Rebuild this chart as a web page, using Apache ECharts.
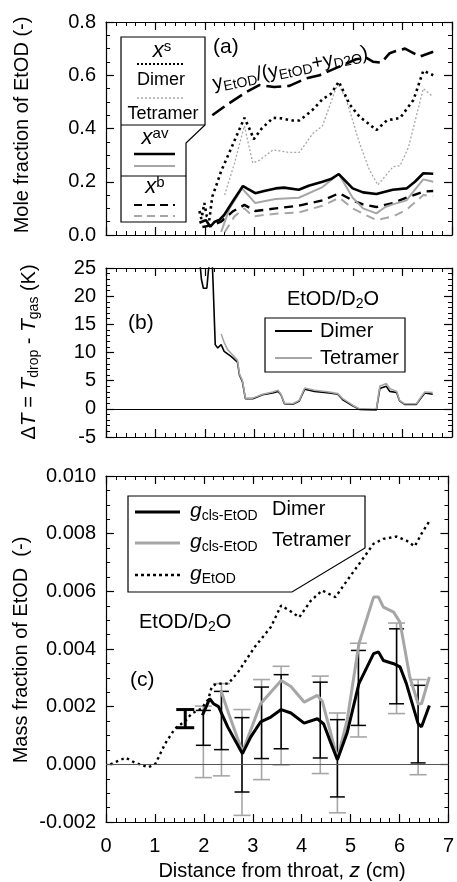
<!DOCTYPE html>
<html>
<head>
<meta charset="utf-8">
<script src="https://cdn.jsdelivr.net/npm/echarts@6/dist/echarts.min.js"></script>
<style>
  html, body { margin: 0; padding: 0; background: #fff; }
  #chart { width: 457px; height: 882px; }
</style>
</head>
<body>
<div id="chart"></div>
<script>
// ---- panel (a): mole fraction of EtOD ----
var ratioZ = [2.15, 2.45, 2.84, 3.1, 3.4, 3.71, 4.05, 4.32, 4.79, 5.06, 5.27, 5.4, 5.57, 5.74, 5.85, 6.05, 6.2, 6.35, 6.62];
var ratioY = [0.45, 0.49, 0.537, 0.563, 0.556, 0.56, 0.588, 0.60, 0.638, 0.66, 0.665, 0.651, 0.647, 0.683, 0.69, 0.70, 0.685, 0.67, 0.688];

var xsDimerZ = [1.89, 1.93, 1.99, 2.04, 2.09, 2.15, 2.22, 2.33, 2.5, 2.65, 2.8, 2.9, 2.99, 3.15, 3.38, 3.55, 3.77, 3.91, 4.05, 4.18, 4.38, 4.55, 4.71, 4.93, 5.13, 5.3, 5.47, 5.68, 5.95, 6.22, 6.42, 6.62];
var xsDimerY = [0.09, 0.06, 0.12, 0.07, 0.056, 0.144, 0.18, 0.24, 0.312, 0.376, 0.44, 0.4, 0.36, 0.4, 0.44, 0.438, 0.43, 0.43, 0.45, 0.47, 0.51, 0.53, 0.576, 0.49, 0.444, 0.42, 0.394, 0.43, 0.44, 0.507, 0.617, 0.60];

var xsTetraZ = [2.4, 2.6, 2.8, 2.97, 3.1, 3.38, 3.71, 3.91, 4.18, 4.38, 4.69, 4.86, 5.13, 5.33, 5.5, 5.81, 5.95, 6.12, 6.42, 6.61];
var xsTetraY = [0.15, 0.27, 0.41, 0.27, 0.28, 0.32, 0.31, 0.31, 0.38, 0.41, 0.57, 0.51, 0.344, 0.244, 0.188, 0.257, 0.26, 0.33, 0.55, 0.52];

var xavDimerZ = [1.89, 2.02, 2.11, 2.2, 2.29, 2.39, 2.56, 2.77, 2.85, 3.02, 3.2, 3.43, 3.6, 3.9, 4.1, 4.38, 4.55, 4.71, 4.99, 5.2, 5.47, 5.8, 6.08, 6.25, 6.42, 6.62];
var xavDimerY = [0.046, 0.056, 0.031, 0.05, 0.056, 0.075, 0.125, 0.184, 0.175, 0.157, 0.165, 0.175, 0.178, 0.17, 0.185, 0.2, 0.21, 0.229, 0.175, 0.16, 0.154, 0.17, 0.175, 0.2, 0.232, 0.23];

var xavTetraZ = [2.33, 2.5, 2.75, 2.85, 3.02, 3.43, 3.9, 4.38, 4.71, 4.99, 5.2, 5.47, 5.65, 5.8, 6.08, 6.25, 6.42, 6.62];
var xavTetraY = [0.012, 0.1, 0.175, 0.155, 0.12, 0.135, 0.14, 0.18, 0.229, 0.14, 0.1, 0.081, 0.105, 0.115, 0.13, 0.17, 0.209, 0.2];

var xbDimerZ = [1.95, 2.15, 2.33, 2.56, 2.8, 3.02, 3.43, 3.9, 4.38, 4.72, 4.99, 5.2, 5.47, 5.8, 6.08, 6.42, 6.62];
var xbDimerY = [0.03, 0.037, 0.05, 0.088, 0.113, 0.09, 0.1, 0.11, 0.13, 0.157, 0.13, 0.115, 0.105, 0.12, 0.14, 0.163, 0.165];

var xbTetraZ = [2.4, 2.6, 2.8, 2.97, 3.43, 3.9, 4.38, 4.72, 4.99, 5.2, 5.47, 5.81, 6.08, 6.42, 6.62];
var xbTetraY = [0.01, 0.07, 0.1, 0.07, 0.08, 0.085, 0.11, 0.14, 0.1, 0.08, 0.056, 0.07, 0.095, 0.15, 0.145];

// ---- panel (b): dT = Tdrop - Tgas ----
var dtDimerZ = [1.89, 1.93, 1.97, 2.04, 2.07, 2.11, 2.15, 2.17, 2.21, 2.26, 2.33, 2.39, 2.53, 2.66, 2.70, 2.76, 2.82, 2.97, 3.17, 3.37, 3.48, 3.54, 3.61, 3.78, 3.91, 4.02, 4.22, 4.52, 4.69, 4.79, 5.00, 5.13, 5.47, 5.54, 5.67, 5.74, 5.88, 5.94, 6.04, 6.28, 6.38, 6.45, 6.61];
var dtDimerY = [27, 23, 21.4, 21.4, 24.4, 27, 26, 21.4, 11.4, 10.8, 11.4, 10.2, 9.3, 8.3, 6.0, 4.8, 1.8, 1.8, 2.5, 2.8, 3.1, 2.5, 0.9, 0.8, 1.4, 3.5, 3.1, 2.8, 2.6, 1.6, 0.5, -0.1, -0.2, 3.6, 4.0, 3.1, 2.9, 1.4, 0.8, 0.8, 2.0, 2.8, 2.6];

var dtTetraZ = [2.33, 2.39, 2.46, 2.56, 2.66, 2.70, 2.76, 2.82, 2.97, 3.17, 3.37, 3.48, 3.54, 3.61, 3.78, 3.91, 4.02, 4.22, 4.52, 4.69, 4.79, 5.00, 5.13, 5.47, 5.54, 5.67, 5.74, 5.88, 5.94, 6.04, 6.28, 6.38, 6.45, 6.61];
var dtTetraY = [13.3, 11.8, 10.5, 9.6, 8.6, 6.2, 5.0, 1.9, 1.9, 2.6, 3.0, 3.3, 2.6, 1.0, 0.9, 1.5, 3.7, 3.3, 3.0, 2.7, 1.8, 0.6, 0.0, -0.1, 4.0, 4.5, 3.6, 3.1, 1.5, 0.9, 0.9, 2.2, 3.0, 2.9];

// ---- panel (c): mass fraction of EtOD ----
var gEtodZ = [0.09, 0.4, 0.6, 0.87, 1.01, 1.21, 1.41, 1.62, 1.75, 1.95, 2.09, 2.16, 2.26, 2.5, 2.7, 3.04, 3.37, 3.58, 3.78, 3.95, 4.19, 4.42, 4.69, 4.93, 5.2, 5.47, 5.67, 5.94, 6.14, 6.31, 6.45, 6.62];
var gEtodY = [0.0, 0.00023, 0.00005, -0.0001, 0.00002, 0.00072, 0.00124, 0.0015, 0.00176, 0.00193, 0.00225, 0.00268, 0.0028, 0.0028, 0.0032, 0.00407, 0.00476, 0.00551, 0.0053, 0.0051, 0.00568, 0.00603, 0.0058, 0.00638, 0.00701, 0.00765, 0.00782, 0.0079, 0.00776, 0.00756, 0.0080, 0.00846];

var gDimerZ = [1.97, 2.12, 2.2, 2.3, 2.49, 2.79, 2.96, 3.16, 3.37, 3.58, 3.78, 4.05, 4.32, 4.45, 4.59, 4.73, 4.93, 5.17, 5.47, 5.57, 5.67, 5.88, 6.01, 6.14, 6.38, 6.45, 6.61];
var gDimerY = [0.0017, 0.00228, 0.0021, 0.002, 0.00129, 0.00037, 0.00095, 0.00147, 0.00164, 0.0019, 0.00178, 0.00143, 0.00158, 0.0014, 0.00077, 0.00016, 0.0011, 0.0028, 0.00384, 0.0039, 0.0036, 0.00349, 0.00338, 0.0028, 0.00141, 0.0013, 0.00204];

var gTetraZ = [2.35, 2.5, 2.79, 3.16, 3.58, 3.78, 4.05, 4.32, 4.42, 4.73, 4.93, 5.17, 5.47, 5.57, 5.67, 5.88, 6.01, 6.21, 6.38, 6.45, 6.61];
var gTetraY = [0.00256, 0.0018, 0.00043, 0.0021, 0.00291, 0.0027, 0.00216, 0.00239, 0.0022, 0.0002, 0.00153, 0.00418, 0.0058, 0.0058, 0.00545, 0.00528, 0.00493, 0.00303, 0.0021, 0.0021, 0.00303];

// error bars
var errZ = [1.99, 2.36, 2.78, 3.18, 3.58, 4.38, 4.73, 5.16, 5.94, 6.38];
var errDimerLo = [0.00066, 0.00051, -0.00096, 0.0002, 0.00054, 0.00022, -0.00113, 0.00135, 0.0021, 0.00005];
var errDimerHi = [0.00187, 0.00253, 0.00162, 0.00268, 0.00311, 0.00285, 0.00155, 0.00395, 0.0047, 0.00274];
var errTetraLo = [-0.00046, -0.0004, -0.00177, -0.00053, -0.00002, -0.00032, -0.00168, 0.00095, 0.00176, -0.00036];
var errTetraHi = [0.00202, 0.0028, 0.0019, 0.00294, 0.0034, 0.00306, 0.00178, 0.0042, 0.0049, 0.00294];
var measZ = [1.62];
var measLo = [0.00127];
var measHi = [0.0019];

var FONT = '"Liberation Sans", Arial, Helvetica, sans-serif';
var GRAY = '#a6a6a6';

function pairs(xs, ys) {
  return xs.map(function (x, i) { return [x, ys[i]]; });
}

function xAxes(g, labels) {
  var base = {
    type: 'value', gridIndex: g, min: 0, max: 7, interval: 1,
    axisLine: { show: true, onZero: false, lineStyle: { color: '#000', width: 1.2 } },
    axisTick: { show: true, inside: true, length: 8, lineStyle: { color: '#000', width: 1.2 } },
    minorTick: { show: true, splitNumber: 5, length: 4, lineStyle: { color: '#000', width: 1 } },
    splitLine: { show: false }
  };
  return [
    Object.assign({}, base, { position: 'bottom',
      axisLabel: { show: labels, color: '#000', fontSize: 20, fontFamily: FONT, margin: 14 } }),
    Object.assign({}, base, { position: 'top', axisLabel: { show: false } })
  ];
}

function yAxes(g, min, max, interval, minor, fmt) {
  var base = {
    type: 'value', gridIndex: g, min: min, max: max, interval: interval,
    axisLine: { show: true, onZero: false, lineStyle: { color: '#000', width: 1.2 } },
    axisTick: { show: true, inside: true, length: 8, lineStyle: { color: '#000', width: 1.2 } },
    minorTick: { show: true, splitNumber: minor, length: 4, lineStyle: { color: '#000', width: 1 } },
    splitLine: { show: false }
  };
  return [
    Object.assign({}, base, { position: 'left',
      axisLabel: { color: '#000', fontSize: 20, fontFamily: FONT, margin: 10, formatter: fmt } }),
    Object.assign({}, base, { position: 'right', axisLabel: { show: false } })
  ];
}

function line(g, xs, ys, style, extra) {
  return Object.assign({
    type: 'line', xAxisIndex: g * 2, yAxisIndex: g * 2,
    data: pairs(xs, ys), symbol: 'none', silent: true, clip: true,
    lineStyle: style
  }, extra || {});
}

function errBars(g, xs, lo, hi, color, width, cap, z) {
  return {
    type: 'custom', xAxisIndex: g * 2, yAxisIndex: g * 2, silent: true, z: z,
    data: xs.map(function (x, i) { return [x, lo[i], hi[i]]; }),
    encode: { x: 0, y: [1, 2] },
    renderItem: function (params, api) {
      var top = api.coord([api.value(0), api.value(2)]);
      var bot = api.coord([api.value(0), api.value(1)]);
      var st = { stroke: color, lineWidth: width };
      return { type: 'group', children: [
        { type: 'line', shape: { x1: top[0], y1: top[1], x2: bot[0], y2: bot[1] }, style: st },
        { type: 'line', shape: { x1: top[0] - cap, y1: top[1], x2: top[0] + cap, y2: top[1] }, style: st },
        { type: 'line', shape: { x1: bot[0] - cap, y1: bot[1], x2: bot[0] + cap, y2: bot[1] }, style: st }
      ] };
    }
  };
}

var zeroLine = function (color, width) {
  return { silent: true, symbol: 'none', label: { show: false },
    lineStyle: { color: color, width: width, type: 'solid' }, data: [{ yAxis: 0 }] };
};

// rich text styles
var RICH = {
  m: { fontSize: 20, fontFamily: FONT, lineHeight: 24, fill: '#000', color: '#000' },
  i: { fontSize: 20, fontFamily: FONT, fontStyle: 'italic', lineHeight: 24, color: '#000' },
  s: { fontSize: 13, fontFamily: FONT, verticalAlign: 'bottom', lineHeight: 13, color: '#000' },
  u: { fontSize: 14, fontFamily: FONT, verticalAlign: 'top', lineHeight: 11, color: '#000' }
};

function txt(x, y, text, opt) {
  opt = opt || {};
  return {
    type: 'text', x: x, y: y, rotation: opt.rot || 0, silent: true, z: 100,
    style: {
      text: text, rich: opt.rich || RICH, fill: '#000',
      font: (opt.size || 20) + 'px ' + FONT,
      align: opt.align || 'left', verticalAlign: opt.va || 'middle'
    }
  };
}

function seg(x1, y1, x2, y2, color, width, dash) {
  return { type: 'line', silent: true, z: 100,
    shape: { x1: x1, y1: y1, x2: x2, y2: y2 },
    style: { stroke: color, lineWidth: width, lineDash: dash || null } };
}

function poly(points) {
  return { type: 'polygon', silent: true, z: 99, shape: { points: points },
    style: { fill: '#fff', stroke: '#000', lineWidth: 1.2 } };
}

var richA = {
  m: { fontSize: 18, fontFamily: FONT, color: '#000' },
  i: { fontSize: 22, fontFamily: FONT, fontStyle: 'italic', lineHeight: 24, color: '#000' },
  u: { fontSize: 15, fontFamily: FONT, verticalAlign: 'top', lineHeight: 12, color: '#000' }
};

var richBig = {
  m: { fontSize: 20, fontFamily: FONT, lineHeight: 24, color: '#000' },
  i: { fontSize: 21, fontFamily: FONT, fontStyle: 'italic', lineHeight: 24, color: '#000' },
  s: { fontSize: 14, fontFamily: FONT, verticalAlign: 'bottom', lineHeight: 14, color: '#000' }
};

var graphics = [
  // axis titles
  txt(22, 125, 'Mole fraction of EtOD (-)', { rot: Math.PI / 2, align: 'center' }),
  txt(29, 352, '{m|Δ}{i|T}{m| = }{i|T}{s|drop}{m| - }{i|T}{s|gas}{m| (K)}', { rot: Math.PI / 2, align: 'center', rich: richBig }),
  txt(21, 650, 'Mass fraction of EtOD  (-)', { rot: Math.PI / 2, align: 'center' }),
  txt(282, 871, '{m|Distance from throat, }{i|z}{m| (cm)}', { align: 'center', rich: richBig }),

  // panel (a) legend
  poly([[121, 37], [205, 37], [205, 125], [186, 143], [186, 222], [121, 222]]),
  seg(121, 125, 205, 125, '#000', 1.2),
  seg(121, 176, 186, 176, '#000', 1.2),
  txt(162, 51, '{i|x}{u|s}', { align: 'center', rich: richA }),
  seg(137, 64, 183, 64, '#000', 2, [2, 2]),
  txt(161, 80, 'Dimer', { align: 'center', size: 18 }),
  seg(137, 98, 183, 98, GRAY, 1.3, [2, 2]),
  txt(163, 114, 'Tetramer', { align: 'center', size: 18 }),
  txt(155, 138, '{i|x}{u|av}', { align: 'center', rich: richA }),
  seg(134, 154, 175, 154, '#000', 2.6),
  seg(134, 166, 175, 166, GRAY, 2),
  txt(155, 187, '{i|x}{u|b}', { align: 'center', rich: richA }),
  seg(134, 205, 175, 205, '#000', 2.2, [8, 5]),
  seg(134, 216, 175, 216, GRAY, 2, [8, 5]),
  txt(213, 47, '(a)', { size: 21 }),
  txt(213, 84, '{m|y}{s|EtOD}{m|/(y}{s|EtOD}{m|+y}{s|D2O}{m|)}', { rot: 0.2, rich: richBig }),

  // panel (b) legend
  txt(333, 299, '{m|EtOD/D}{s|2}{m|O}', { align: 'center', rich: richBig }),
  { type: 'rect', silent: true, z: 99, shape: { x: 265, y: 318, width: 140, height: 54 },
    style: { fill: '#fff', stroke: '#000', lineWidth: 1.2 } },
  seg(275, 331, 312, 331, '#000', 2),
  txt(320, 331, 'Dimer'),
  seg(275, 358, 312, 358, GRAY, 2),
  txt(320, 358, 'Tetramer'),
  txt(128, 323, '(b)', { size: 21 }),

  // panel (c) legend
  poly([[128, 496], [365, 496], [365, 548], [292, 592], [128, 592]]),
  seg(135, 512, 180, 512, '#000', 3),
  txt(190, 511, '{i|g}{s|cls-EtOD}', { rich: richBig }),
  txt(272, 509, 'Dimer'),
  seg(135, 543, 180, 543, GRAY, 3),
  txt(190, 542, '{i|g}{s|cls-EtOD}', { rich: richBig }),
  txt(272, 540, 'Tetramer'),
  seg(135, 575, 180, 575, '#000', 2.5, [3, 3]),
  txt(190, 574, '{i|g}{s|EtOD}', { rich: richBig }),
  txt(139, 622, '{m|EtOD/D}{s|2}{m|O}', { rich: richBig }),
  txt(130, 680, '(c)', { size: 21 })
];

var chart = echarts.init(document.getElementById('chart'), null, { renderer: 'canvas' });

var fmtA = function (v) { return v.toFixed(1); };
var fmtB = function (v) { return String(Math.round(v)); };
var fmtC = function (v) { if (Math.abs(v) < 1e-9) v = 0; return v.toFixed(3); };

chart.setOption({
  animation: false,
  backgroundColor: '#fff',
  textStyle: { fontFamily: FONT },
  grid: [
    { left: 106, right: 5, top: 22, height: 213 },
    { left: 106, right: 5, top: 268, height: 169 },
    { left: 106, right: 5, top: 476, height: 346 }
  ],
  xAxis: [].concat(xAxes(0, false), xAxes(1, false), xAxes(2, true)),
  yAxis: [].concat(
    yAxes(0, 0, 0.8, 0.2, 4, fmtA),
    yAxes(1, -5, 25, 5, 5, fmtB),
    yAxes(2, -0.002, 0.010, 0.002, 4, fmtC)
  ),
  graphic: graphics,
  series: [
    // (a)
    line(0, ratioZ, ratioY, { color: '#000', width: 2.6, type: [15, 6] }),
    line(0, xsTetraZ, xsTetraY, { color: GRAY, width: 1.3, type: [2, 2] }),
    line(0, xsDimerZ, xsDimerY, { color: '#000', width: 2.6, type: [2.5, 3.5] }),
    line(0, xbTetraZ, xbTetraY, { color: GRAY, width: 2, type: [9, 6] }),
    line(0, xbDimerZ, xbDimerY, { color: '#000', width: 2.4, type: [9, 6] }),
    line(0, xavTetraZ, xavTetraY, { color: GRAY, width: 2 }),
    line(0, xavDimerZ, xavDimerY, { color: '#000', width: 2.6 }),
    // (b)
    line(1, dtDimerZ, dtDimerY, { color: '#000', width: 1.6 }, { markLine: zeroLine('#000', 1) }),
    line(1, dtTetraZ, dtTetraY, { color: GRAY, width: 1.6 }),
    // (c)
    line(2, gEtodZ, gEtodY, { color: '#000', width: 2.4, type: [2.5, 3.5] }, { markLine: zeroLine('#555', 1.2) }),
    errBars(2, errZ, errTetraLo, errTetraHi, GRAY, 1.6, 8.5, 2),
    errBars(2, errZ, errDimerLo, errDimerHi, '#000', 1.5, 7.5, 3),
    errBars(2, measZ, measLo, measHi, '#000', 3, 9, 3),
    line(2, gTetraZ, gTetraY, { color: GRAY, width: 3 }, { z: 4 }),
    line(2, gDimerZ, gDimerY, { color: '#000', width: 3 }, { z: 5 })
  ]
});
</script>
</body>
</html>
